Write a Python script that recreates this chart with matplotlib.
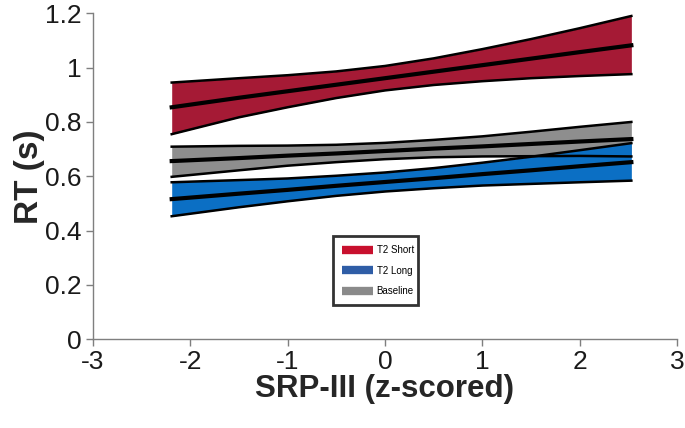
import matplotlib
matplotlib.use("Agg")
import matplotlib.pyplot as plt
from matplotlib.lines import Line2D

plt.rcParams['font.family'] = ['Liberation Sans', 'DejaVu Sans']
plt.rcParams['axes.unicode_minus'] = False

srp = [-2.19, -1.5, -1.0, -0.5, 0.0, 0.5, 1.0, 1.5, 2.0, 2.53]

# T2 Short
short_mean = [0.854, 0.889, 0.913, 0.937, 0.961, 0.985, 1.009, 1.033, 1.057, 1.082]
short_upper = [0.945, 0.961, 0.972, 0.986, 1.006, 1.034, 1.068, 1.105, 1.145, 1.190]
short_lower = [0.755, 0.817, 0.854, 0.888, 0.916, 0.936, 0.950, 0.961, 0.969, 0.976]

# T2 Long
long_mean = [0.516, 0.536, 0.550, 0.565, 0.579, 0.593, 0.608, 0.622, 0.637, 0.652]
long_upper = [0.578, 0.586, 0.592, 0.602, 0.614, 0.630, 0.650, 0.672, 0.696, 0.722]
long_lower = [0.453, 0.486, 0.508, 0.528, 0.544, 0.556, 0.566, 0.572, 0.578, 0.584]

# Baseline
base_mean = [0.656, 0.667, 0.676, 0.684, 0.693, 0.702, 0.710, 0.719, 0.728, 0.737]
base_upper = [0.709, 0.712, 0.713, 0.716, 0.723, 0.734, 0.747, 0.764, 0.782, 0.800]
base_lower = [0.598, 0.622, 0.639, 0.652, 0.663, 0.670, 0.673, 0.674, 0.675, 0.673]

labels = ["T2 Short", "T2 Long", "Baseline"]
fill_colors = ["#A51A35", "#0B6FC4", "#8E8E8E"]
legend_colors = ["#C8102E", "#2F5DA6", "#8A8A8A"]

fig = plt.figure(figsize=(6.85, 4.28), dpi=100)
ax = fig.add_axes([0.1355, 0.2072, 0.8530, 0.7618])

# fills first (baseline under T2 long), then all black lines on top
ax.fill_between(srp, short_lower, short_upper, color=fill_colors[0], lw=0, zorder=1)
ax.fill_between(srp, base_lower, base_upper, color=fill_colors[2], lw=0, zorder=1)
ax.fill_between(srp, long_lower, long_upper, color=fill_colors[1], lw=0, zorder=2)

for lo, mid, hi in [(short_lower, short_mean, short_upper),
                    (base_lower, base_mean, base_upper),
                    (long_lower, long_mean, long_upper)]:
    ax.plot(srp, lo, color="black", lw=1.8, zorder=3)
    ax.plot(srp, hi, color="black", lw=1.8, zorder=3)
    ax.plot(srp, mid, color="black", lw=3.0, zorder=3)

ax.set_xlim(-3, 3)
ax.set_ylim(0, 1.2)
ax.set_xticks([-3, -2, -1, 0, 1, 2, 3])
ax.set_yticks([0, 0.2, 0.4, 0.6, 0.8, 1.0, 1.2])
ax.set_yticklabels(["0", "0.2", "0.4", "0.6", "0.8", "1", "1.2"])

for side in ["top", "right"]:
    ax.spines[side].set_visible(False)
for side in ["left", "bottom"]:
    ax.spines[side].set_color("#7f7f7f")
    ax.spines[side].set_linewidth(1.0)
ax.tick_params(direction="out", length=5, width=1.0, color="#7f7f7f",
               labelsize=19, labelcolor="#1a1a1a", pad=3)

ax.set_xlabel("SRP-III (z-scored)", fontsize=22.5, fontweight="bold", color="#262626", labelpad=0)
ax.set_ylabel("RT (s)", fontsize=24, fontweight="bold", color="#262626", labelpad=0)

handles = [Line2D([0], [0], color=c, lw=6, solid_capstyle="butt") for c in legend_colors]
leg = ax.legend(handles, labels, loc="lower left", bbox_to_anchor=(0.411, 0.105, 0.146, 0.209),
                mode="expand", fontsize=7, frameon=True, fancybox=False, handlelength=3.2,
                handletextpad=0.4, labelspacing=1.1, borderpad=0.9, borderaxespad=0)
leg.get_frame().set_edgecolor("black")
leg.get_frame().set_linewidth(2.0)

fig.savefig("out.png", dpi=100)
